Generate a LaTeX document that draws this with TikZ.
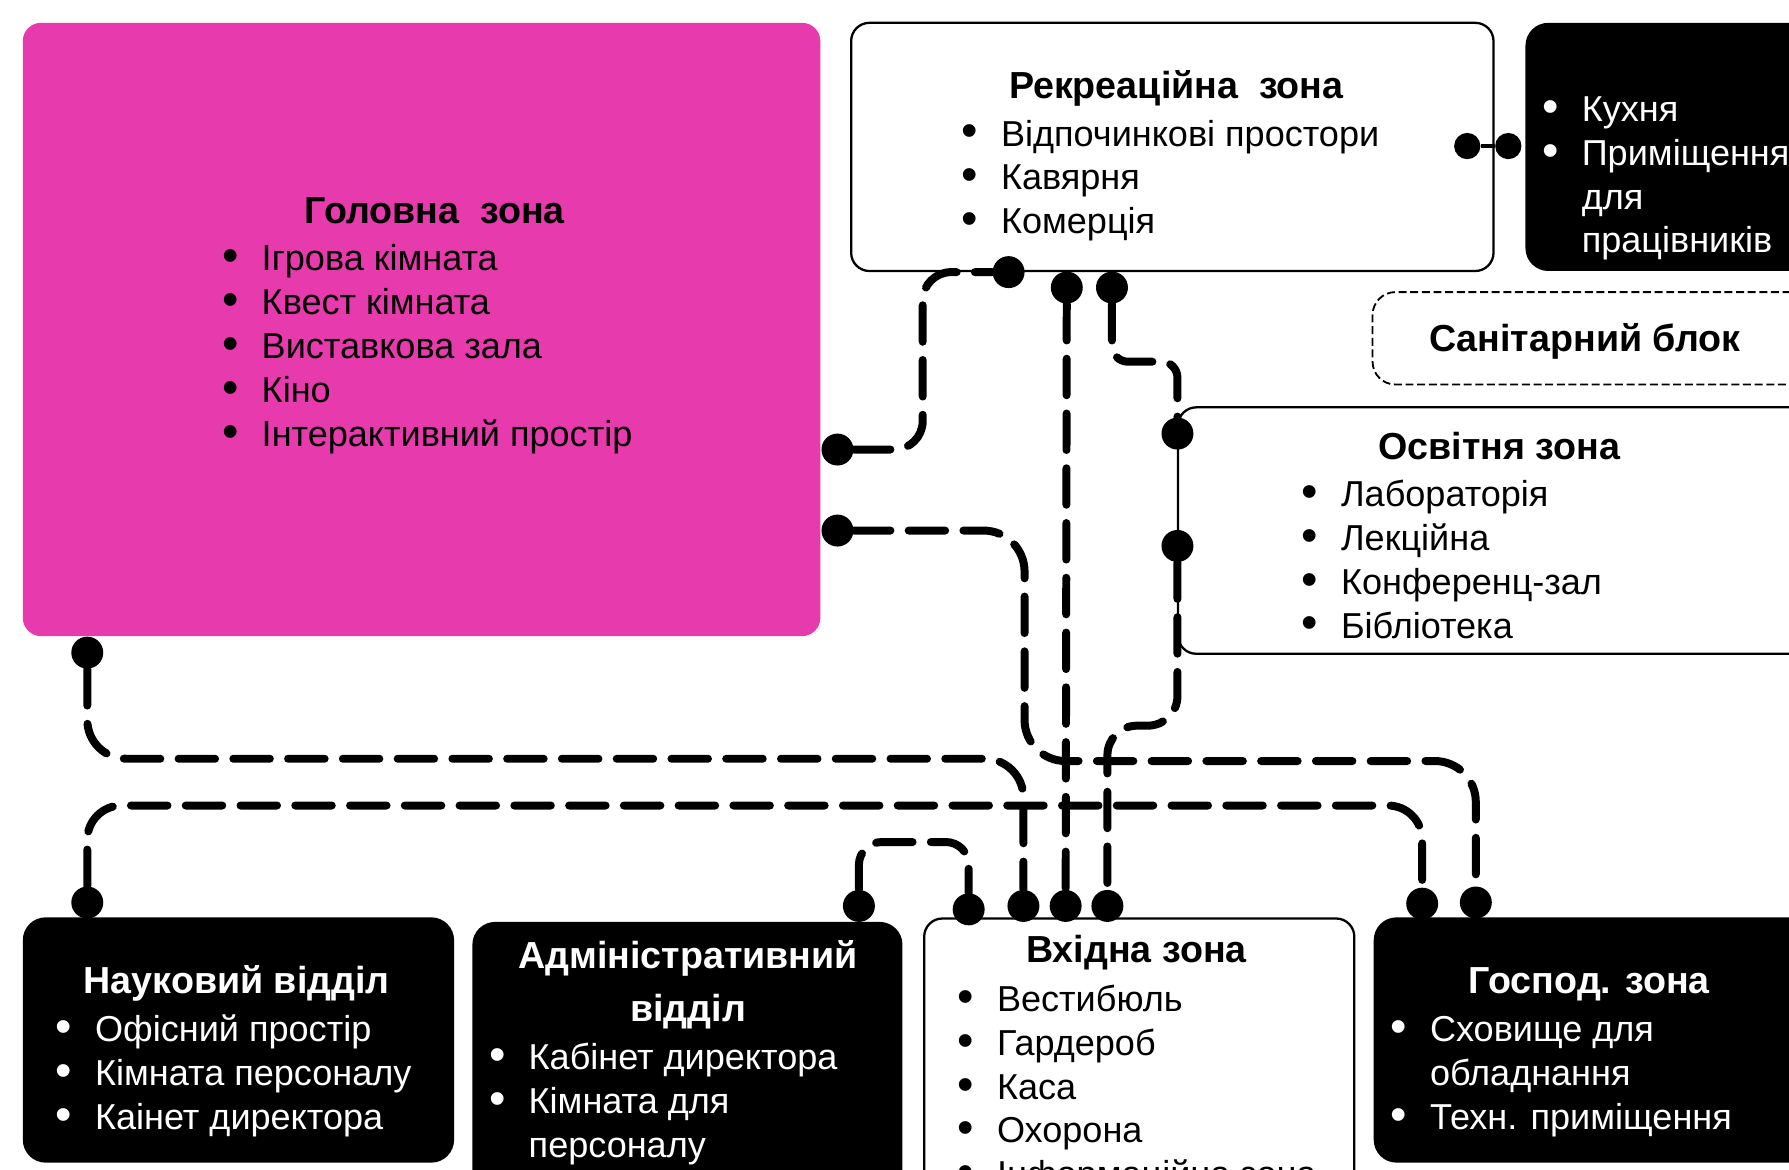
\documentclass[tikz,border=0pt]{standalone}
\usepackage{fontspec}
\setmainfont{Liberation Sans}
\usetikzlibrary{fit}
\definecolor{pinkz}{RGB}{231,58,172}
\newcommand\itm{\llap{\raisebox{-0.4pt}{\scalebox{1.3}{\textbullet}}\hspace{10.2pt}}}
\begin{document}
\begin{tikzpicture}[x=0.5pt,y=-0.5pt,
  wbox/.style={draw=black, line width=1pt, fill=white, rounded corners=8pt, inner sep=0pt},
  bbox/.style={fill=black, rounded corners=10pt, inner sep=0pt},
  pbox/.style={fill=pinkz, rounded corners=8pt, inner sep=0pt},
  sbox/.style={draw=black, line width=0.8pt, dash pattern=on 3.5pt off 1.6pt, rounded corners=10pt, inner sep=0pt},
  conn/.style={line width=3.5pt, line cap=round, dash pattern=on 16pt off 8pt},
  dotn/.style={circle, fill=black, minimum size=14pt, inner sep=0pt},
  sdot/.style={circle, fill=black, minimum size=11.5pt, inner sep=0pt},
  ttl/.style={font=\bfseries\fontsize{16.5}{23.2}\selectfont, anchor=base, inner sep=0pt},
  lst/.style={font=\fontsize{15.8}{19.2}\selectfont, anchor=base west, inner sep=0pt},
  wt/.style={text=white}]
\useasboundingbox (0,0) rectangle (1568,1025);
\clip (0,0) rectangle (1568,1025);

% boxes
\node[pbox, fit={(20,20) (719,557.5)}] (gol) {};
\node[wbox, fit={(746,20) (1309,237.5)}] (rek) {};
\node[bbox, fit={(1337,20) (1620,237.5)}] (kux) {};
\node[sbox, fit={(1203,256) (1620,337)}] (san) {};
\node[wbox, fit={(1032.5,357) (1620,573)}] (osv) {};
\node[bbox, fit={(20,804) (398,1019)}] (nau) {};
\node[bbox, fit={(414,808) (791,1060)}] (adm) {};
\node[wbox, fit={(810,805) (1187,1060)}] (vxi) {};
\node[bbox, fit={(1204,804) (1620,1019)}] (gos) {};

% texts
\node[ttl] (golT) at (381,196) {Головна\ \ зона};
\node[lst] (golL) at (229,237.5) {\begin{tabular}[t]{@{}l@{}}\itm Ігрова кімната\\ \itm Квест кімната\\ \itm Виставкова зала\\ \itm Кіно\\ \itm Інтерактивний простір\end{tabular}};

\node[ttl] (rekT) at (1031,86) {Рекреаційна\ \ зона};
\node[lst] (rekL) at (877,128) {\begin{tabular}[t]{@{}l@{}}\itm Відпочинкові простори\\ \itm Кавярня\\ \itm Комерція\end{tabular}};

\node[lst, wt] (kuxL) at (1386,106.5) {\begin{tabular}[t]{@{}l@{}}\itm Кухня\\ \itm Приміщення\\ для\\ працівників\end{tabular}};

\node[ttl] (sanT) at (1389,308.5) {Санітарний блок};

\node[ttl] (osvT) at (1314,402.5) {Освітня зона};
\node[lst] (osvL) at (1175,444) {\begin{tabular}[t]{@{}l@{}}\itm Лабораторія\\ \itm Лекційна\\ \itm Конференц-зал\\ \itm Бібліотека\end{tabular}};

\node[ttl, wt] (nauT) at (207.5,871) {Науковий відділ};
\node[lst, wt] (nauL) at (83,913) {\begin{tabular}[t]{@{}l@{}}\itm Офісний простір\\ \itm Кімната персоналу\\ \itm Каінет директора\end{tabular}};

\node[ttl, wt] (admT) at (603,849) {\begin{tabular}[t]{@{}c@{}}Адміністративний\\ відділ\end{tabular}};
\node[lst, wt] (admL) at (463,937.5) {\begin{tabular}[t]{@{}l@{}}\itm Кабінет директора\\ \itm Кімната для\\ персоналу\end{tabular}};

\node[ttl] (vxiT) at (996,844) {Вхідна зона};
\node[lst] (vxiL) at (873.5,886.5) {\begin{tabular}[t]{@{}l@{}}\itm Вестибюль\\ \itm Гардероб\\ \itm Каса\\ \itm Охорона\\ \itm Інформаційна зона\end{tabular}};

\node[ttl, wt] (gosT) at (1393,870.5) {Господ. зона};
\node[lst, wt] (gosL) at (1253,913) {\begin{tabular}[t]{@{}l@{}}\itm Сховище для\\ обладнання\\ \itm Техн. приміщення\end{tabular}};

% dots
\node[dotn] (dA1) at (734,394) {};
\node[dotn] (dA2) at (884,238.5) {};
\node[dotn] (dB1) at (734,465) {};
\node[dotn] (dC1) at (935,252) {};
\node[dotn] (dD1) at (974.6,252) {};
\node[dotn] (dD2) at (1032,380) {};
\node[dotn] (dE1) at (1032,478.5) {};
\node[dotn] (dF1) at (76.5,572) {};
\node[dotn] (dG1) at (76.5,791) {};
\node[dotn] (dH1) at (752.8,794) {};
\node[dotn] (dH2) at (849,797) {};
\node[dotn] (dF2) at (897,794) {};
\node[dotn] (dC2) at (934,794) {};
\node[dotn] (dE2) at (970.6,794) {};
\node[dotn] (dG2) at (1246.5,792) {};
\node[dotn] (dB2) at (1293.5,791) {};
\node[sdot] (dI1) at (1286,128) {};
\node[sdot] (dI2) at (1322,128) {};

% connectors
\draw[conn, rounded corners=12.5pt] (dA1) -- (808.7,394) -- (808.7,238.5) -- (dA2);
\draw[conn, rounded corners=18pt] (dB1) -- (898,465) -- (898,667) -- (1293.5,667) -- (dB2);
\draw[conn] (dC1) -- (dC2);
\draw[conn, rounded corners=7pt] (dD1) -- (974.6,317) -- (1032,317) -- (dD2);
\draw[conn, rounded corners=13pt] (dE1) -- (1032,636) -- (970.6,636) -- (dE2);
\draw[conn, rounded corners=17pt] (dF1) -- (76.5,665) -- (897,665) -- (dF2);
\draw[conn, rounded corners=15pt] (dG1) -- (76.5,706) -- (1246.5,706) -- (dG2);
\draw[conn, rounded corners=10pt] (dH1) -- (752.8,738) -- (849,738) -- (dH2);
\draw[line width=2pt] (dI1) -- (dI2);
\end{tikzpicture}
\end{document}
